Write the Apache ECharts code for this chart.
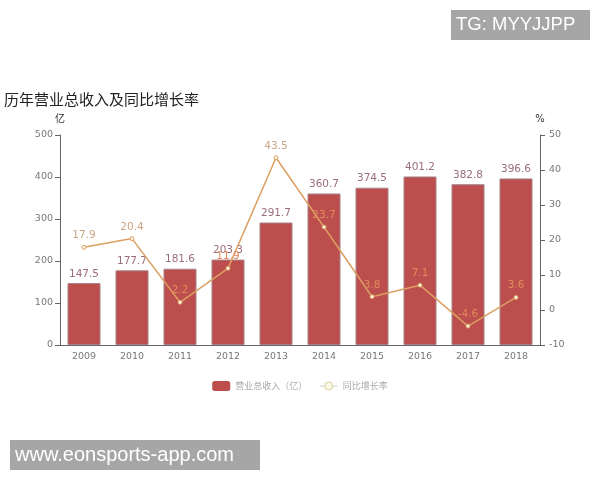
<!DOCTYPE html>
<html>
<head>
<meta charset="utf-8">
<style>html,body{margin:0;padding:0;background:#fff}#box{width:600px;height:480px}</style>
<script src="https://cdn.jsdelivr.net/npm/echarts@6/dist/echarts.min.js"></script>
</head>
<body>
<div id="box"></div>
<script>
const years = ["2009","2010","2011","2012","2013","2014","2015","2016","2017","2018"];
const revenue = [147.5,177.7,181.6,203.3,291.7,360.7,374.5,401.2,382.8,396.6];
const growth = [17.9,20.4,2.2,11.9,43.5,23.7,3.8,7.1,-4.6,3.6];
const revenueName = "营业总收入（亿）";
const growthName = "同比增长率";
// growth labels that sit on white rather than on a bar
const onWhite = ["2009","2010","2013"];

const font = "'DejaVu Sans', 'Noto Sans CJK SC', sans-serif";
const cjkFont = "'Noto Sans CJK SC', sans-serif";
const chart = echarts.init(document.getElementById("box"), null, { renderer: "canvas" });

function valueAxis(name, min, max, interval, margin) {
  return {
    type: "value",
    name: name,
    nameGap: 11,
    nameTextStyle: { color: "#333", fontSize: 10, fontFamily: font },
    min: min,
    max: max,
    interval: interval,
    splitLine: { show: false },
    axisLine: { show: true, lineStyle: { color: "#666" } },
    axisTick: { show: true, length: 5, lineStyle: { color: "#666" } },
    axisLabel: { color: "#777", fontSize: 9.5, margin: margin, fontFamily: font }
  };
}

chart.setOption({
  animation: false,
  title: {
    text: "历年营业总收入及同比增长率",
    left: -1,
    top: 87,
    textStyle: { color: "#222", fontSize: 15, fontWeight: "normal", fontFamily: cjkFont }
  },
  legend: {
    top: 376,
    left: "center",
    itemWidth: 18,
    itemHeight: 10,
    itemGap: 12,
    textStyle: { color: "#aaa", fontSize: 9, fontFamily: cjkFont },
    data: [
      { name: revenueName, icon: "roundRect", itemStyle: { borderWidth: 0 } },
      {
        name: growthName,
        itemStyle: { color: "#fdf8e6", borderColor: "#d9cfa0", borderWidth: 1 },
        lineStyle: { color: "#cfcfcf", width: 1 }
      }
    ]
  },
  grid: { left: 60, right: 60, top: 135, bottom: 135 },
  xAxis: {
    type: "category",
    data: years,
    axisLine: { lineStyle: { color: "#666" } },
    axisTick: { length: 4, lineStyle: { color: "#666" } },
    axisLabel: { color: "#777", fontSize: 9.5, margin: 7, fontFamily: font }
  },
  yAxis: [valueAxis("亿", 0, 500, 100, 7), valueAxis("%", -10, 50, 10, 9)],
  series: [
    {
      name: revenueName,
      type: "bar",
      data: revenue,
      barWidth: 33,
      itemStyle: { color: "#bc4f4e", borderColor: "#a58087", borderWidth: 1 },
      label: { show: true, position: "top", distance: 4, color: "#9a6e78", fontSize: 10.5, fontFamily: font }
    },
    {
      name: growthName,
      type: "line",
      yAxisIndex: 1,
      data: growth.map((v, i) => ({
        value: v,
        label: { color: onWhite.includes(years[i]) ? "#c9a585" : "#e2895c" }
      })),
      z: 5,
      symbol: "circle",
      symbolSize: 4,
      lineStyle: { color: "#dc9f62", width: 1.5 },
      itemStyle: { color: "#fdf6e3", borderColor: "#dc9f62", borderWidth: 1 },
      label: { show: true, position: "top", distance: 4, fontSize: 10.5, fontFamily: font }
    }
  ],
  graphic: [
    {
      type: "group",
      silent: true,
      children: [
        { type: "rect", shape: { x: 451, y: 10, width: 139, height: 30 }, style: { fill: "#a6a6a6" } },
        { type: "text", x: 456, y: 25, style: { text: "TG: MYYJJPP", fill: "#fff", fontSize: 18.5, fontFamily: "'Liberation Sans', sans-serif", verticalAlign: "middle" } },
        { type: "rect", shape: { x: 10, y: 440, width: 250, height: 30 }, style: { fill: "#a6a6a6" } },
        { type: "text", x: 15, y: 455, style: { text: "www.eonsports-app.com", fill: "#fff", fontSize: 20, fontFamily: "'Liberation Sans', sans-serif", verticalAlign: "middle" } }
      ]
    }
  ]
});
</script>
</body>
</html>
